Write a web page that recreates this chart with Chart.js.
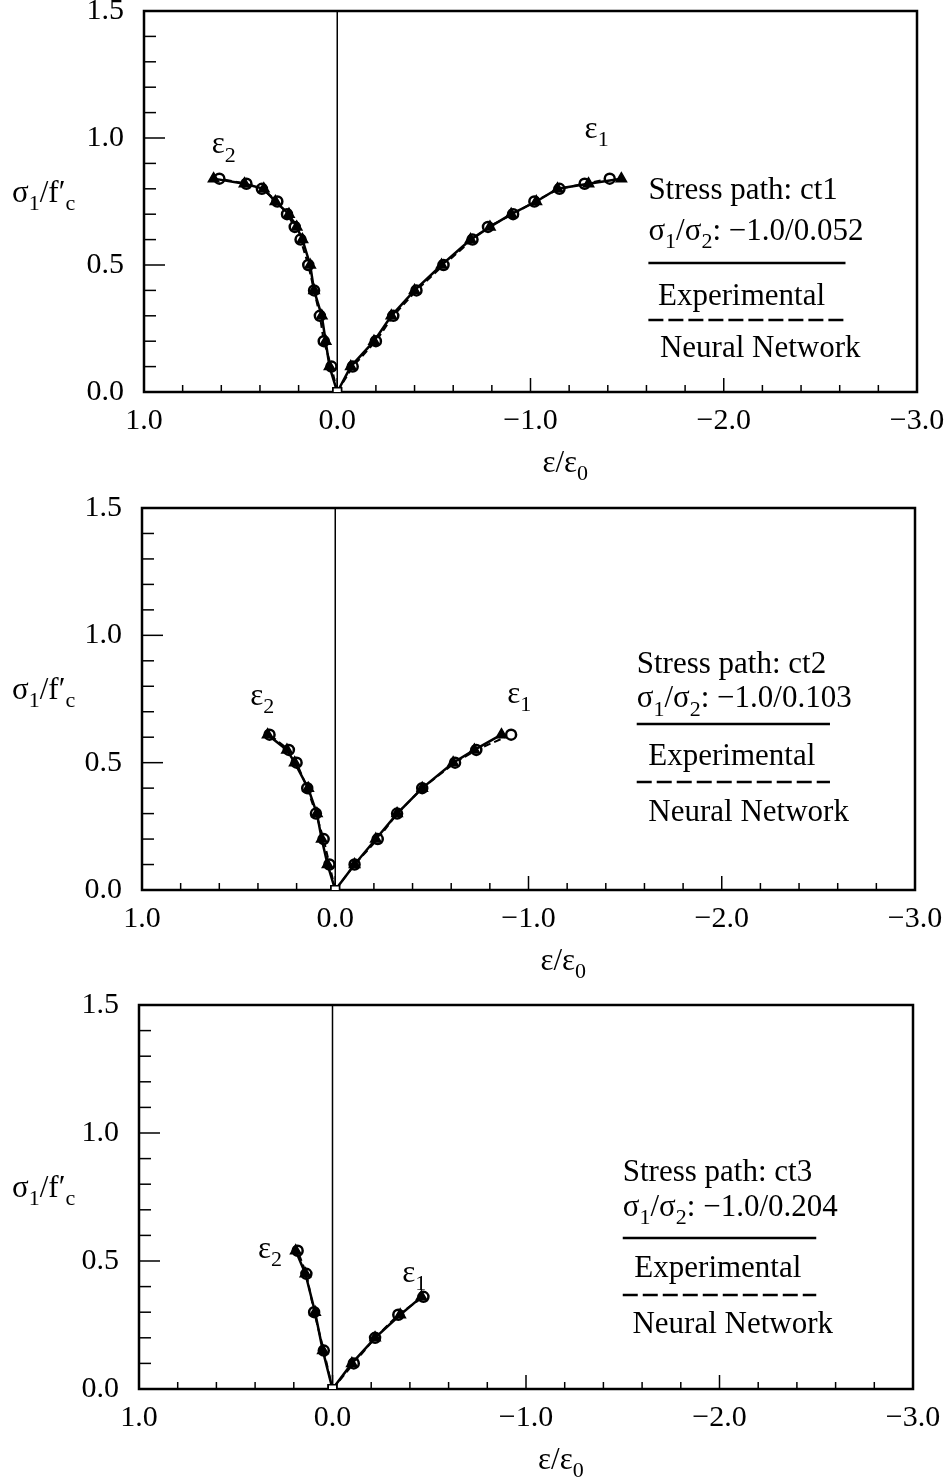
<!DOCTYPE html>
<html>
<head>
<meta charset="utf-8">
<title>Stress paths ct1 - ct3</title>
<script src="https://cdn.jsdelivr.net/npm/chart.js@4.4.1/dist/chart.umd.min.js"></script>
<style>
  body { margin: 0; background: #fff; }
  #wrap { position: relative; width: 947px; height: 1480px; }
  canvas { position: absolute; left: 0; }
</style>
</head>
<body>
<div id="wrap">
  <canvas id="ct1" width="947" height="492" style="top:0px"></canvas>
  <canvas id="ct2" width="947" height="497" style="top:495px"></canvas>
  <canvas id="ct3" width="947" height="488" style="top:992px"></canvas>
</div>
<script>
// stress levels (sigma1/f'c) and strains (eps/eps0)
// ct1: sigma1/sigma2 = -1.0/0.052
const ct1StressE2 = [0, 0.10, 0.20, 0.30, 0.40, 0.50, 0.60, 0.65, 0.70, 0.75, 0.80, 0.82, 0.84];
const ct1ExpE2    = [0, 0.04, 0.06, 0.08, 0.12, 0.14, 0.18, 0.21, 0.25, 0.32, 0.38, 0.48, 0.64];
const ct1NnE2     = [0, 0.03, 0.07, 0.09, 0.12, 0.15, 0.19, 0.22, 0.26, 0.31, 0.39, 0.47, 0.61];
const ct1StressE1 = [0, 0.10, 0.20, 0.30, 0.40, 0.50, 0.60, 0.65, 0.70, 0.75, 0.80, 0.82, 0.84];
const ct1ExpE1    = [0, -0.07, -0.19, -0.28, -0.40, -0.54, -0.69, -0.79, -0.90, -1.03, -1.14, -1.30, -1.47];
const ct1NnE1     = [0, -0.08, -0.20, -0.29, -0.41, -0.55, -0.70, -0.78, -0.91, -1.02, -1.15, -1.28, -1.41];

// ct2: sigma1/sigma2 = -1.0/0.103
const ct2StressE2 = [0, 0.10, 0.20, 0.30, 0.40, 0.50, 0.55, 0.61];
const ct2ExpE2    = [0, 0.04, 0.07, 0.095, 0.14, 0.21, 0.25, 0.35];
const ct2NnE2     = [0, 0.03, 0.06, 0.10, 0.145, 0.20, 0.24, 0.34];
const ct2StressE1 = [0, 0.10, 0.20, 0.30, 0.40, 0.50, 0.55, 0.61];
const ct2ExpE1    = [0, -0.10, -0.21, -0.32, -0.45, -0.61, -0.72, -0.86];
const ct2NnE1     = [0, -0.10, -0.22, -0.32, -0.45, -0.62, -0.73, -0.91];

// ct3: sigma1/sigma2 = -1.0/0.204
const ct3StressE2 = [0, 0.15, 0.30, 0.45, 0.54];
const ct3ExpE2    = [0, 0.05, 0.09, 0.14, 0.19];
const ct3NnE2     = [0, 0.045, 0.095, 0.135, 0.18];
const ct3StressE1 = [0, 0.10, 0.20, 0.29, 0.36];
const ct3ExpE1    = [0, -0.10, -0.22, -0.35, -0.46];
const ct3NnE1     = [0, -0.11, -0.22, -0.34, -0.47];

const stressPaths = ['ct1', 'ct2', 'ct3'];
const stressRatios = ['0.052', '0.103', '0.204'];

// axes
const xMin = -3.0, xMax = 1.0, xStep = 0.2;
const yMin = 0.0, yMax = 1.5, yStep = 0.1;

const FONT = '"Liberation Serif", "Times New Roman", serif';

// page placement of each panel
const panels = [
  { id: 'ct1', top: 0,   height: 492, left: 144, right: 917, areaTop: 11,   areaBottom: 392 },
  { id: 'ct2', top: 495, height: 497, left: 142, right: 915, areaTop: 508,  areaBottom: 890 },
  { id: 'ct3', top: 992, height: 488, left: 139, right: 913, areaTop: 1005, areaBottom: 1389 }
];

// where the annotations sit, in data units
const notes = [
  { e2: [0.65, 0.94], e1: [-1.28, 1.0],
    keyLeft: -1.61, keyRight: -2.63, pathY: 0.76, ratioY: 0.60, solidY: 0.508,
    expLeft: -1.66, expY: 0.343, dashY: 0.283, nnLeft: -1.67, nnY: 0.138 },
  { e2: [0.44, 0.726], e1: [-0.89, 0.734],
    keyLeft: -1.56, keyRight: -2.56, pathY: 0.852, ratioY: 0.718, solidY: 0.652,
    expLeft: -1.62, expY: 0.491, dashY: 0.424, nnLeft: -1.62, nnY: 0.271 },
  { e2: [0.385, 0.512], e1: [-0.36, 0.418],
    keyLeft: -1.50, keyRight: -2.50, pathY: 0.8125, ratioY: 0.676, solidY: 0.59,
    expLeft: -1.56, expY: 0.4375, dashY: 0.367, nnLeft: -1.55, nnY: 0.219 }
];

function pts(xs, ys) {
  return xs.map((v, i) => ({ x: v, y: ys[i] }));
}

// text with subscripts: parts = [[text, isSub], ...]
function drawRich(ctx, parts, x, y, size, align) {
  const subSize = Math.round(size * 0.72);
  let w = 0;
  parts.forEach(([t, sub]) => {
    ctx.font = (sub ? subSize : size) + 'px ' + FONT;
    w += ctx.measureText(t).width;
  });
  let cx = align === 'center' ? x - w / 2 : x;
  ctx.textAlign = 'left';
  ctx.textBaseline = 'alphabetic';
  parts.forEach(([t, sub]) => {
    ctx.font = (sub ? subSize : size) + 'px ' + FONT;
    ctx.fillText(t, cx, sub ? y + size * 0.27 : y);
    cx += ctx.measureText(t).width;
  });
}

const paperPlugin = {
  id: 'paper',
  beforeDatasetsDraw(chart) {
    const { ctx, chartArea: a, scales: { x, y } } = chart;
    ctx.save();
    ctx.strokeStyle = '#000';

    // zero strain line
    const x0 = x.getPixelForValue(0);
    ctx.lineWidth = 1.5;
    ctx.beginPath();
    ctx.moveTo(x0, a.top);
    ctx.lineTo(x0, a.bottom);
    ctx.stroke();

    // frame
    ctx.lineWidth = 2.5;
    ctx.strokeRect(a.left, a.top, a.right - a.left, a.bottom - a.top);

    // tick marks pointing inwards
    ctx.lineWidth = 1.5;
    x.ticks.forEach(t => {
      const major = Math.abs(t.value - Math.round(t.value)) < 1e-6;
      const px = x.getPixelForValue(t.value);
      ctx.beginPath();
      ctx.moveTo(px, a.bottom);
      ctx.lineTo(px, a.bottom - (major ? 14 : 7));
      ctx.stroke();
    });
    y.ticks.forEach(t => {
      const major = Math.abs(t.value * 2 - Math.round(t.value * 2)) < 1e-6;
      const py = y.getPixelForValue(t.value);
      ctx.beginPath();
      ctx.moveTo(a.left, py);
      ctx.lineTo(a.left + (major ? 21 : 12), py);
      ctx.stroke();
    });
    ctx.restore();
  },
  afterDraw(chart, args, opts) {
    const { ctx, chartArea: a, scales: { x, y } } = chart;
    const n = opts.note;
    ctx.save();
    ctx.fillStyle = '#000';
    ctx.strokeStyle = '#000';

    // axis titles
    drawRich(ctx, [['σ', false], ['1', true], ['/f′', false], ['c', true]], 12, y.getPixelForValue(0.75), 31, 'left');
    drawRich(ctx, [['ε/ε', false], ['0', true]], x.getPixelForValue(-1.18), a.bottom + 80, 31, 'center');

    // branch labels
    drawRich(ctx, [['ε', false], ['2', true]], x.getPixelForValue(n.e2[0]), y.getPixelForValue(n.e2[1]), 31, 'left');
    drawRich(ctx, [['ε', false], ['1', true]], x.getPixelForValue(n.e1[0]), y.getPixelForValue(n.e1[1]), 31, 'left');

    // key
    const kl = x.getPixelForValue(n.keyLeft);
    const kr = x.getPixelForValue(n.keyRight);
    drawRich(ctx, [['Stress path: ' + opts.path, false]], kl, y.getPixelForValue(n.pathY), 31, 'left');
    drawRich(ctx, [['σ', false], ['1', true], ['/σ', false], ['2', true], [': −1.0/' + opts.ratio, false]],
      kl, y.getPixelForValue(n.ratioY), 31, 'left');
    ctx.lineWidth = 2.5;
    ctx.beginPath();
    ctx.moveTo(kl, y.getPixelForValue(n.solidY));
    ctx.lineTo(kr, y.getPixelForValue(n.solidY));
    ctx.stroke();
    drawRich(ctx, [['Experimental', false]], x.getPixelForValue(n.expLeft), y.getPixelForValue(n.expY), 31, 'left');
    ctx.setLineDash([15, 5]);
    ctx.beginPath();
    ctx.moveTo(kl, y.getPixelForValue(n.dashY));
    ctx.lineTo(kr, y.getPixelForValue(n.dashY));
    ctx.stroke();
    ctx.setLineDash([]);
    drawRich(ctx, [['Neural Network', false]], x.getPixelForValue(n.nnLeft), y.getPixelForValue(n.nnY), 31, 'left');
    ctx.restore();
  }
};

const isOrigin = c => c.raw && c.raw.x === 0 && c.raw.y === 0;

const expStyle = {
  showLine: true,
  borderColor: '#000',
  borderWidth: 2.5,
  pointStyle: c => isOrigin(c) ? 'rect' : 'triangle',
  pointRadius: 6,
  pointBackgroundColor: c => isOrigin(c) ? '#fff' : '#000',
  pointBorderColor: '#000',
  pointBorderWidth: 1.5
};

const nnStyle = {
  showLine: true,
  borderColor: '#000',
  borderWidth: 2,
  borderDash: [7, 4],
  pointStyle: c => isOrigin(c) ? 'rect' : 'circle',
  pointRadius: 5,
  pointBackgroundColor: '#fff',
  pointBorderColor: '#000',
  pointBorderWidth: 2.5
};

const panelData = [
  [ct1StressE2, ct1ExpE2, ct1NnE2, ct1StressE1, ct1ExpE1, ct1NnE1],
  [ct2StressE2, ct2ExpE2, ct2NnE2, ct2StressE1, ct2ExpE1, ct2NnE1],
  [ct3StressE2, ct3ExpE2, ct3NnE2, ct3StressE1, ct3ExpE1, ct3NnE1]
];

panels.forEach((p, i) => {
  const [sE2, expE2, nnE2, sE1, expE1, nnE1] = panelData[i];
  const areaTop = p.areaTop - p.top;
  const areaBottom = p.areaBottom - p.top;

  new Chart(document.getElementById(p.id), {
    type: 'scatter',
    data: {
      datasets: [
        { label: 'Experimental ε2', data: pts(expE2, sE2), ...expStyle },
        { label: 'Experimental ε1', data: pts(expE1, sE1), ...expStyle },
        { label: 'Neural Network ε2', data: pts(nnE2, sE2), ...nnStyle },
        { label: 'Neural Network ε1', data: pts(nnE1, sE1), ...nnStyle }
      ]
    },
    options: {
      responsive: false,
      animation: false,
      events: [],
      layout: { padding: { top: areaTop, right: 947 - p.right, left: 0, bottom: 0 } },
      plugins: {
        legend: { display: false },
        tooltip: { enabled: false },
        paper: { note: notes[i], path: stressPaths[i], ratio: stressRatios[i] }
      },
      scales: {
        x: {
          type: 'linear',
          reverse: true,
          min: xMin,
          max: xMax,
          grid: { display: false },
          border: { display: false },
          ticks: {
            stepSize: xStep,
            autoSkip: false,
            maxRotation: 0,
            padding: 3,
            color: '#000',
            font: { family: FONT, size: 30 },
            callback: v => {
              if (Math.abs(v - Math.round(v)) > 1e-6) return '';
              return v < -1e-6 ? '−' + Math.abs(v).toFixed(1) : Math.abs(v).toFixed(1);
            }
          },
          afterFit: s => { s.height = p.height - areaBottom; s.paddingLeft = 0; s.paddingRight = 0; }
        },
        y: {
          type: 'linear',
          min: yMin,
          max: yMax,
          grid: { display: false },
          border: { display: false },
          ticks: {
            stepSize: yStep,
            autoSkip: false,
            padding: 12,
            color: '#000',
            font: { family: FONT, size: 30 },
            callback: v => Math.abs(v * 2 - Math.round(v * 2)) < 1e-6 ? v.toFixed(1) : ''
          },
          afterFit: s => { s.width = p.left; s.paddingTop = 0; s.paddingBottom = 0; }
        }
      }
    },
    plugins: [paperPlugin]
  });
});
</script>
</body>
</html>
